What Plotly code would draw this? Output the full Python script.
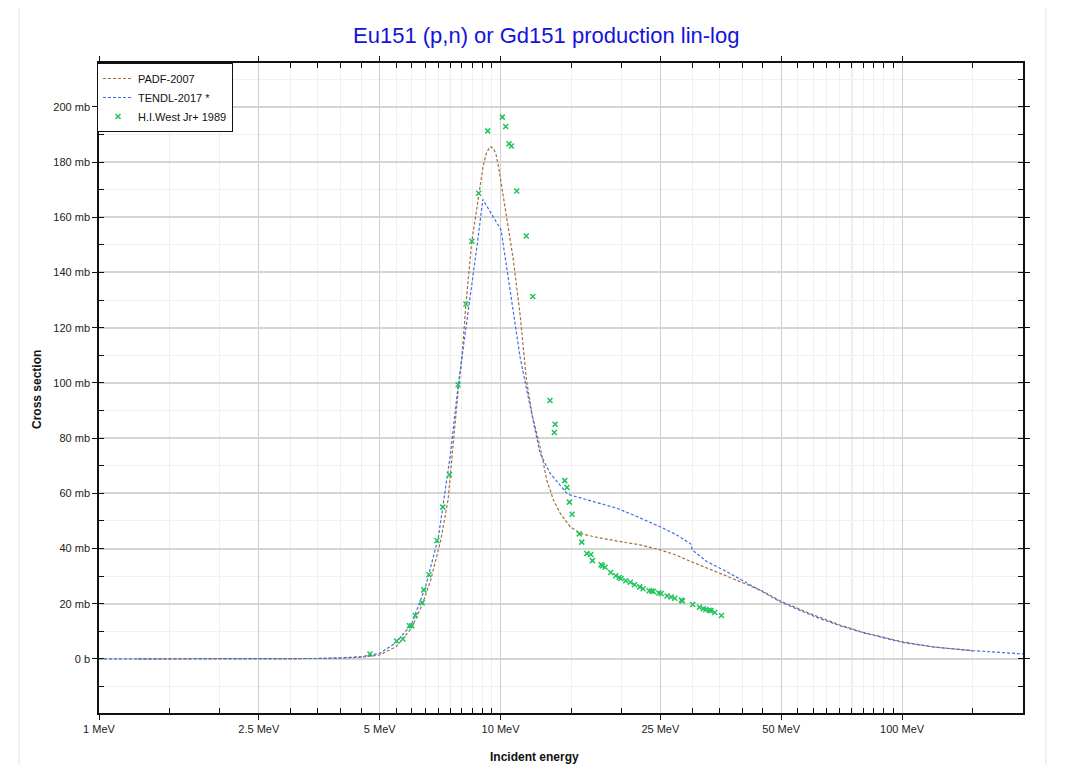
import plotly.graph_objects as go

# ---------------- data ----------------
padf_e = [1.25, 2.0, 3.0, 3.5, 4.0, 4.5, 5.0, 5.5, 6.0, 6.4, 6.7, 7.1, 7.4, 7.55, 7.84, 8.0,
          8.2, 8.48, 8.82, 9.05, 9.22, 9.42, 9.6, 9.75, 9.9, 10.07, 10.36, 10.76, 11.18, 11.6, 12.0,
          12.54, 13.03, 13.54, 14.07, 14.9, 15.78, 17.03, 18.5, 19.85, 22.25, 25.0, 27.5,
          29.65, 32.5, 35.2, 39.5, 45.0, 50.0, 60.0, 70.0, 80.0, 100.0, 120.0, 150.0]
padf_xs = [0.0, 0.0, 0.05, 0.15, 0.3, 0.6, 1.4, 4.5, 11.1, 20.2, 28.6, 43.1, 57.6, 72.0, 97.0, 108.0,
           128.6, 151.3, 168.7, 178.5, 183.3, 185.6, 185.0, 182.6, 177.8, 171.1, 160.2, 144.6, 125.0,
           101.0, 88.0,
           76.9, 64.9, 57.6, 52.8, 47.9, 45.5, 44.3, 43.3, 42.5, 41.3, 39.5, 37.5,
           35.4, 33.2, 31.0, 28.0, 24.5, 20.8, 16.0, 12.3, 9.6, 6.2, 4.3, 2.9]

tendl_e = [1.0, 2.0, 3.0, 3.5, 4.0, 4.5, 5.0, 5.5, 6.0, 6.5, 7.0, 7.5, 7.84, 8.0, 8.36, 8.8,
           9.03, 10.03, 10.14, 10.76, 11.18, 11.6, 12.3, 12.54, 13.28, 14.62, 14.9, 16.4,
           19.47, 21.84, 24.96, 27.46, 29.8, 30.0, 32.6, 36.6, 39.5, 45.0, 50.0, 60.0, 70.0,
           80.0, 100.0, 120.0, 150.0, 200.0]
tendl_xs = [0.0, 0.0, 0.05, 0.15, 0.35, 0.8, 2.0, 6.0, 12.5, 26.0, 44.0, 74.0, 99.0, 109.0, 129.0, 153.0,
            166.5, 155.4, 150.6, 125.3, 109.5, 98.0, 80.5, 74.5, 67.3, 60.0, 59.4, 57.6,
            54.6, 51.6, 47.9, 44.9, 41.6, 39.5, 35.3, 31.6, 28.9, 24.4, 20.5, 15.6, 12.0,
            9.5, 6.0, 4.3, 3.0, 1.8]

exp_e = [4.73, 5.51, 5.71, 5.93, 6.01, 6.13, 6.38, 6.44, 6.63, 6.94, 7.18, 7.46, 7.84, 8.20,
         8.48, 8.82, 9.29, 10.10, 10.30, 10.50, 10.64, 10.97, 11.59, 12.03, 13.28, 13.67, 13.61,
         14.45, 14.64, 14.84, 15.07, 15.71, 15.93, 16.40, 16.78, 16.93, 17.80, 17.93, 18.21,
         18.81, 19.36, 19.73, 19.95, 20.50, 21.05, 21.55, 22.22, 22.65, 23.44, 23.80, 24.02,
         24.78, 25.11, 25.98, 26.59, 27.16, 28.21, 28.38, 30.10, 31.28, 31.99, 32.44, 33.05,
         33.39, 34.16, 35.48]
exp_xs = [1.8, 6.5, 7.2, 12.0, 12.0, 15.7, 20.4, 25.0, 30.5, 42.9, 55.0, 66.7, 99.3, 128.6,
          151.3, 168.7, 191.3, 196.3, 192.9, 186.6, 185.8, 169.5, 153.2, 131.3, 93.6, 85.0, 82.0,
          64.6, 62.1, 56.8, 52.4, 45.3, 42.3, 38.2, 37.8, 35.6, 34.1, 33.7, 33.2,
          31.3, 30.1, 29.5, 29.1, 28.3, 27.8, 26.9, 26.1, 25.4, 24.7, 24.6, 24.4,
          23.9, 23.7, 22.8, 22.4, 22.0, 21.3, 21.0, 19.7, 18.7, 18.2, 17.9, 17.6,
          17.5, 16.8, 15.7]

x_major = [1, 2.5, 5, 10, 25, 50, 100]
x_major_text = ["1 MeV", "2.5 MeV", "5 MeV", "10 MeV", "25 MeV", "50 MeV", "100 MeV"]
x_minor = [1.5, 2, 3, 3.5, 4, 4.5, 5.5, 6, 6.5, 7, 7.5, 8, 8.5, 9, 9.5,
           15, 20, 30, 35, 40, 45, 55, 60, 65, 70, 75, 80, 85, 90, 95, 150]
x_emph_grid = [7.5, 75]

y_major = [0, 20, 40, 60, 80, 100, 120, 140, 160, 180, 200]
y_major_text = ["0 b", "20 mb", "40 mb", "60 mb", "80 mb", "100 mb", "120 mb",
                "140 mb", "160 mb", "180 mb", "200 mb"]

FONT = "Arial, Liberation Sans, sans-serif"

# page body has an 8px margin: plot area should land at x 99..1023, y 63..713 in the window
OFF = 8
L, T = 99 - OFF, 63 - OFF
PW, PH = 924, 650
W, H = 1071 - OFF * 2, 773 - OFF * 2


def px_x(px):
    return (px - 99) / PW


def px_y(py):
    return (713 - py) / PH


fig = go.Figure()
fig.add_trace(go.Scatter(x=padf_e, y=padf_xs, mode="lines", name="PADF-2007",
                         line=dict(color="#a2703c", width=1.2, dash="3px,2px")))
fig.add_trace(go.Scatter(x=tendl_e, y=tendl_xs, mode="lines", name="TENDL-2017 *",
                         line=dict(color="#3f6ee6", width=1.2, dash="3px,2px")))
fig.add_trace(go.Scatter(x=exp_e, y=exp_xs, mode="markers", name="H.I.West Jr+ 1989",
                         marker=dict(symbol="x-thin", size=5, color="#1fc45a",
                                     line=dict(color="#1fc45a", width=1.5))))

shapes = []
for xv in x_emph_grid:
    shapes.append(dict(type="line", xref="x", yref="paper", x0=xv, x1=xv, y0=0, y1=1,
                       line=dict(color="#d6d6d6", width=1), layer="below"))
# outer faint frame
shapes.append(dict(type="rect", xref="paper", yref="paper",
                   x0=px_x(19), x1=px_x(1046), y0=px_y(800), y1=px_y(5),
                   line=dict(color="#ececec", width=1.5), layer="below"))

fig.update_layout(
    width=W, height=H, autosize=False,
    margin=dict(l=L, r=W - L - PW, t=T, b=H - T - PH),
    paper_bgcolor="white", plot_bgcolor="white",
    font=dict(family=FONT, size=11, color="#222"),
    showlegend=True,
    legend=dict(x=px_x(97), y=1.0, xanchor="left", yanchor="top",
                bgcolor="white", bordercolor="#111", borderwidth=1,
                font=dict(family=FONT, size=11, color="#111"),
                tracegroupgap=0, itemwidth=30),
    shapes=shapes,
    annotations=[
        dict(text="Eu151 (p,n) or Gd151 production lin-log", xref="paper", yref="paper",
             x=px_x(546), y=px_y(35), xanchor="center", yanchor="middle",
             showarrow=False, font=dict(family=FONT, size=22, color="#1414d8")),
        dict(text="<b>Incident energy</b>", xref="paper", yref="paper",
             x=px_x(534), y=px_y(757), xanchor="center", yanchor="middle",
             showarrow=False, font=dict(family=FONT, size=12, color="#111")),
        dict(text="<b>Cross section</b>", xref="paper", yref="paper",
             x=px_x(37), y=px_y(390), xanchor="center", yanchor="middle",
             textangle=-90, showarrow=False, font=dict(family=FONT, size=12, color="#111")),
    ],
)

fig.update_xaxes(
    type="log", range=[0, 2.30103],
    tickmode="array", tickvals=x_major, ticktext=x_major_text,
    ticks="outside", ticklen=5, tickcolor="#111", tickwidth=1,
    showline=True, linecolor="#111", linewidth=1.5, mirror="ticks",
    showgrid=True, gridcolor="#cfcfcf", gridwidth=1, zeroline=False,
    tickfont=dict(family=FONT, size=11, color="#222"),
    minor=dict(tickmode="array", tickvals=x_minor, ticks="inside", ticklen=5,
               tickcolor="#111", showgrid=True, gridcolor="#efefef", gridwidth=1),
)
fig.update_yaxes(
    range=[-19.6, 215.9],
    tickmode="array", tickvals=y_major, ticktext=y_major_text,
    ticks="outside", ticklen=5, tickcolor="#111", tickwidth=1,
    showline=True, linecolor="#111", linewidth=1.5, mirror="ticks",
    showgrid=True, gridcolor="#d4d4d4", gridwidth=1.5, zeroline=False,
    tickfont=dict(family=FONT, size=11, color="#222"),
    minor=dict(dtick=10, tick0=0, ticks="inside", ticklen=5, tickcolor="#111",
               showgrid=True, gridcolor="#f0f0f0", gridwidth=1),
)

fig.write_html("out.html")
